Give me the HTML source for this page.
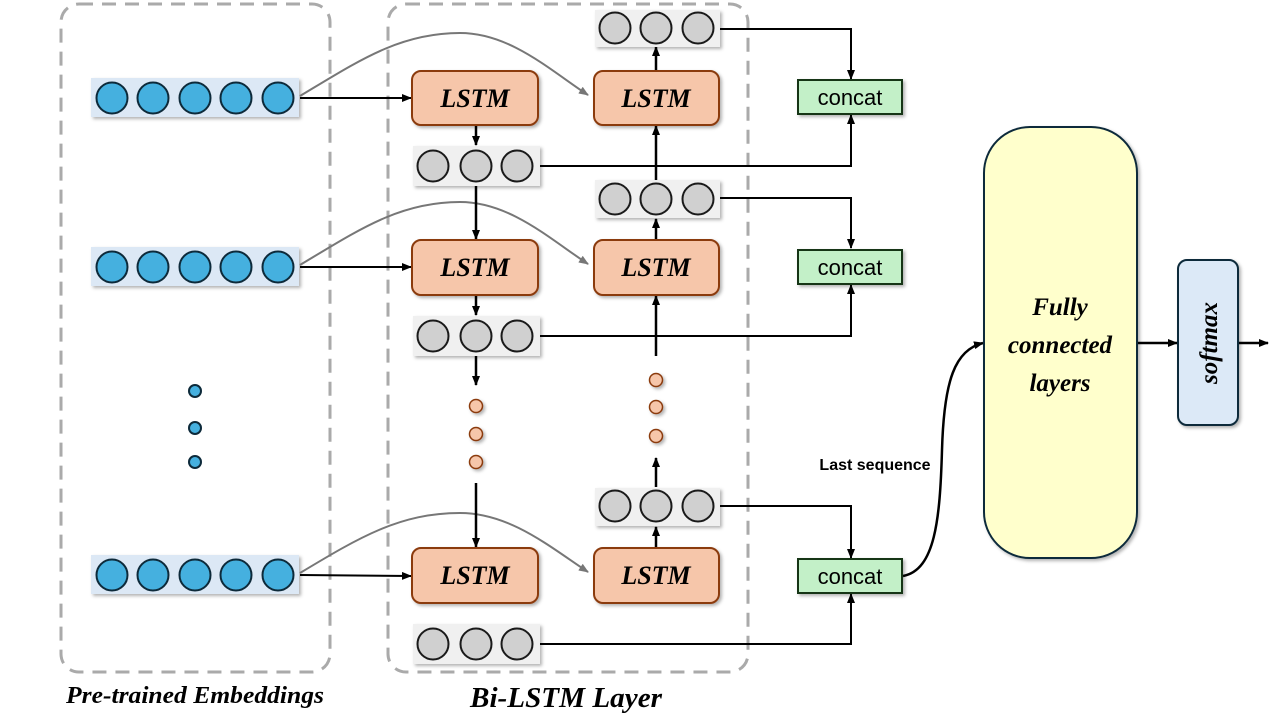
<!DOCTYPE html>
<html><head><meta charset="utf-8"><style>
html,body{margin:0;padding:0;background:#fff;}
svg{display:block;}
.lstm{font-family:"Liberation Serif",serif;font-weight:bold;font-style:italic;font-size:26px;}
</style></head><body>
<svg width="1280" height="720" viewBox="0 0 1280 720" xmlns="http://www.w3.org/2000/svg">
<defs>
<marker id="ab" markerWidth="10" markerHeight="8" refX="9" refY="4" orient="auto" markerUnits="userSpaceOnUse"><path d="M0,0 L10,4 L0,8 z" fill="#000"/></marker>
<marker id="ag" markerWidth="10" markerHeight="8" refX="9" refY="4" orient="auto" markerUnits="userSpaceOnUse"><path d="M0,0 L10,4 L0,8 z" fill="#777"/></marker>
<filter id="sh" x="-10%" y="-10%" width="130%" height="140%"><feDropShadow dx="2" dy="2" stdDeviation="1.5" flood-color="#000" flood-opacity="0.3"/></filter>
</defs>
<rect x="61" y="4" width="269" height="668" rx="18" fill="none" stroke="#aaa" stroke-width="3" stroke-dasharray="14,9"/>
<rect x="388" y="4" width="360" height="668" rx="18" fill="none" stroke="#aaa" stroke-width="3" stroke-dasharray="14,9"/>

<g filter="url(#sh)">
<rect x="91" y="78" width="208" height="39" fill="#dce8f5"/>
<rect x="91" y="247" width="208" height="39" fill="#dce8f5"/>
<rect x="91" y="555" width="208" height="39" fill="#dce8f5"/>
</g>
<g fill="#45b0df" stroke="#0d2a3a" stroke-width="2">
<circle cx="112" cy="98" r="15.5"/><circle cx="153" cy="98" r="15.5"/><circle cx="195" cy="98" r="15.5"/><circle cx="236" cy="98" r="15.5"/><circle cx="278" cy="98" r="15.5"/>
<circle cx="112" cy="267" r="15.5"/><circle cx="153" cy="267" r="15.5"/><circle cx="195" cy="267" r="15.5"/><circle cx="236" cy="267" r="15.5"/><circle cx="278" cy="267" r="15.5"/>
<circle cx="112" cy="575" r="15.5"/><circle cx="153" cy="575" r="15.5"/><circle cx="195" cy="575" r="15.5"/><circle cx="236" cy="575" r="15.5"/><circle cx="278" cy="575" r="15.5"/>
<circle cx="195" cy="391" r="6"/><circle cx="195" cy="428" r="6"/><circle cx="195" cy="462" r="6"/>
</g>

<g fill="none" stroke="#777" stroke-width="2">
<path d="M300,96 C360,60 400,33 460,33 C510,33 550,70 588,95" marker-end="url(#ag)"/>
<path d="M300,265 C360,229 400,202 460,202 C510,202 550,239 588,264" marker-end="url(#ag)"/>
<path d="M300,573 C360,537 400,513 460,513 C510,513 550,547 588,572" marker-end="url(#ag)"/>
</g>

<g fill="none" stroke="#000" stroke-width="2">
<line x1="300" y1="98" x2="411" y2="98" marker-end="url(#ab)"/>
<line x1="300" y1="267" x2="411" y2="267" marker-end="url(#ab)"/>
<line x1="300" y1="575" x2="411" y2="576" marker-end="url(#ab)"/>
</g>
<g fill="none" stroke="#000" stroke-width="2.5">
<line x1="476" y1="125" x2="476" y2="145" marker-end="url(#ab)"/>
<line x1="476" y1="186" x2="476" y2="239" marker-end="url(#ab)"/>
<line x1="476" y1="295" x2="476" y2="315" marker-end="url(#ab)"/>
<line x1="476" y1="356" x2="476" y2="385" marker-end="url(#ab)"/>
<line x1="476" y1="483" x2="476" y2="547" marker-end="url(#ab)"/>
<line x1="656" y1="71" x2="656" y2="47" marker-end="url(#ab)"/>
<line x1="656" y1="180" x2="656" y2="126" marker-end="url(#ab)"/>
<line x1="656" y1="240" x2="656" y2="219" marker-end="url(#ab)"/>
<line x1="656" y1="356" x2="656" y2="296" marker-end="url(#ab)"/>
<line x1="656" y1="487" x2="656" y2="458" marker-end="url(#ab)"/>
<line x1="656" y1="548" x2="656" y2="527" marker-end="url(#ab)"/>
</g>
<g fill="none" stroke="#000" stroke-width="2">
<polyline points="720,29 851,29 851,79" marker-end="url(#ab)"/>
<polyline points="540,166 851,166 851,115" marker-end="url(#ab)"/>
<polyline points="720,198 851,198 851,248" marker-end="url(#ab)"/>
<polyline points="540,336 851,336 851,285" marker-end="url(#ab)"/>
<polyline points="720,506 851,506 851,558" marker-end="url(#ab)"/>
<polyline points="540,644 851,644 851,594" marker-end="url(#ab)"/>
<path d="M903,576 C935,570 940,520 942,450 C944,380 955,350 983,343" stroke-width="2.5" marker-end="url(#ab)"/>
<line x1="1138" y1="343" x2="1177" y2="343" stroke-width="2.5" marker-end="url(#ab)"/>
<line x1="1238" y1="343" x2="1268" y2="343" stroke-width="2.5" marker-end="url(#ab)"/>
</g>

<g filter="url(#sh)" fill="#f0f0f0">
<rect x="413" y="146" width="127" height="40"/>
<rect x="413" y="316" width="127" height="40"/>
<rect x="413" y="624" width="127" height="40"/>
<rect x="595" y="10" width="125" height="37"/>
<rect x="595" y="180" width="125" height="38"/>
<rect x="595" y="488" width="125" height="38"/>
</g>
<g fill="#d0d0d0" stroke="#1a1a1a" stroke-width="2">
<circle cx="433" cy="166" r="15.5"/><circle cx="476" cy="166" r="15.5"/><circle cx="517" cy="166" r="15.5"/>
<circle cx="433" cy="336" r="15.5"/><circle cx="476" cy="336" r="15.5"/><circle cx="517" cy="336" r="15.5"/>
<circle cx="433" cy="644" r="15.5"/><circle cx="476" cy="644" r="15.5"/><circle cx="517" cy="644" r="15.5"/>
<circle cx="615" cy="28" r="15.5"/><circle cx="656" cy="28" r="15.5"/><circle cx="698" cy="28" r="15.5"/>
<circle cx="615" cy="199" r="15.5"/><circle cx="656" cy="199" r="15.5"/><circle cx="698" cy="199" r="15.5"/>
<circle cx="615" cy="506" r="15.5"/><circle cx="656" cy="506" r="15.5"/><circle cx="698" cy="506" r="15.5"/>
</g>
<g fill="#f6c6aa" stroke="#8b3a0f" stroke-width="1.5" filter="url(#sh)">
<circle cx="476" cy="406" r="6.5"/><circle cx="476" cy="434" r="6.5"/><circle cx="476" cy="462" r="6.5"/>
<circle cx="656" cy="380" r="6.5"/><circle cx="656" cy="407" r="6.5"/><circle cx="656" cy="436" r="6.5"/>
</g>

<g fill="#f6c6aa" stroke="#8b3a0f" stroke-width="2" filter="url(#sh)">
<rect x="412" y="71" width="126" height="54" rx="9"/>
<rect x="594" y="71" width="125" height="54" rx="9"/>
<rect x="412" y="240" width="126" height="55" rx="9"/>
<rect x="594" y="240" width="125" height="55" rx="9"/>
<rect x="412" y="548" width="126" height="55" rx="9"/>
<rect x="594" y="548" width="125" height="55" rx="9"/>
</g>
<g class="lstm" text-anchor="middle">
<text x="475" y="107">LSTM</text><text x="656" y="107">LSTM</text>
<text x="475" y="276">LSTM</text><text x="656" y="276">LSTM</text>
<text x="475" y="584">LSTM</text><text x="656" y="584">LSTM</text>
</g>

<g fill="#c3f0c8" stroke="#153515" stroke-width="2" filter="url(#sh)">
<rect x="798" y="80" width="104" height="34"/>
<rect x="798" y="250" width="104" height="34"/>
<rect x="798" y="559" width="104" height="34"/>
</g>
<g font-family="Liberation Sans, sans-serif" font-size="22" text-anchor="middle" fill="#000">
<text x="850" y="105">concat</text><text x="850" y="275">concat</text><text x="850" y="584">concat</text>
</g>
<text x="875" y="470" font-family="Liberation Sans, sans-serif" font-weight="bold" font-size="16" text-anchor="middle">Last sequence</text>

<rect x="984" y="127" width="153" height="431" rx="46" fill="#ffffcc" stroke="#0b2a3a" stroke-width="2" filter="url(#sh)"/>
<g font-family="Liberation Serif, serif" font-weight="bold" font-style="italic" font-size="25" text-anchor="middle">
<text x="1060" y="315">Fully</text>
<text x="1060" y="353">connected</text>
<text x="1060" y="391">layers</text>
</g>
<rect x="1178" y="260" width="60" height="165" rx="9" fill="#dce9f7" stroke="#0b2a3a" stroke-width="2" filter="url(#sh)"/>
<text transform="translate(1217,343) rotate(-90)" font-family="Liberation Serif, serif" font-weight="bold" font-style="italic" font-size="25" text-anchor="middle">softmax</text>

<text x="66" y="703" textLength="258" lengthAdjust="spacingAndGlyphs" font-family="Liberation Serif, serif" font-weight="bold" font-style="italic" font-size="24">Pre-trained Embeddings</text>
<text x="470" y="707" textLength="192" lengthAdjust="spacingAndGlyphs" font-family="Liberation Serif, serif" font-weight="bold" font-style="italic" font-size="28">Bi-LSTM Layer</text>
</svg>
</body></html>
